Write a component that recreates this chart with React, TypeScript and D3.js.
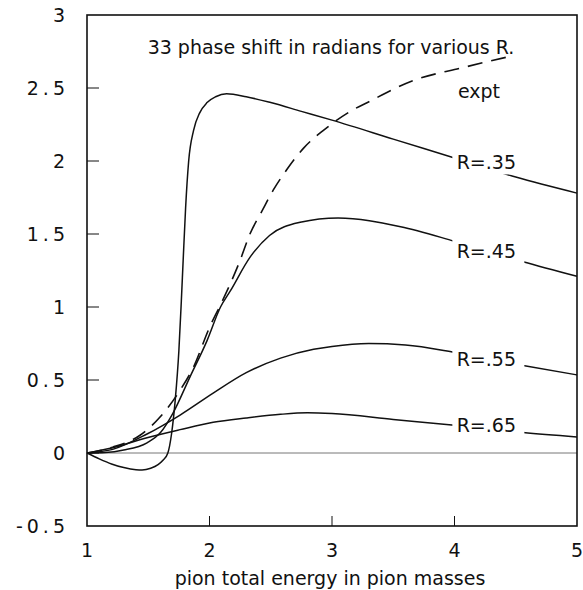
import * as d3 from "d3";

// phase shift curves: [energy, delta]
const r35: [number, number][] = [
  [1, 0], [1.1, -0.04], [1.2, -0.075], [1.3, -0.1], [1.4, -0.115], [1.45, -0.117],
  [1.52, -0.105], [1.58, -0.08], [1.62, -0.05], [1.66, 0], [1.69, 0.13], [1.72, 0.36],
  [1.75, 0.7], [1.77, 1.04], [1.785, 1.32], [1.805, 1.68], [1.83, 2.0], [1.87, 2.21],
  [1.92, 2.33], [1.98, 2.4], [2.05, 2.44], [2.14, 2.46], [2.3, 2.44], [2.5, 2.4],
  [2.75, 2.34], [3.0, 2.28], [3.5, 2.15], [4.0, 2.02], [4.5, 1.89], [5.0, 1.78],
];
const r45: [number, number][] = [
  [1, 0], [1.15, 0.003], [1.3, 0.02], [1.49, 0.07], [1.6, 0.14], [1.7, 0.27],
  [1.84, 0.52], [1.98, 0.77], [2.09, 1.0], [2.17, 1.11], [2.33, 1.34], [2.49, 1.49],
  [2.74, 1.58], [3.05, 1.61], [3.56, 1.55], [4.0, 1.45], [4.56, 1.31], [5.0, 1.21],
];
const r55: [number, number][] = [
  [1, 0], [1.21, 0.025], [1.49, 0.13], [1.76, 0.26], [2.03, 0.41], [2.3, 0.55],
  [2.58, 0.65], [2.85, 0.71], [3.0, 0.73], [3.3, 0.75], [3.6, 0.74], [4.0, 0.69],
  [4.56, 0.6], [5.0, 0.535],
];
const r65: [number, number][] = [
  [1, 0], [1.21, 0.036], [1.49, 0.105], [1.76, 0.16], [2.03, 0.21], [2.3, 0.24],
  [2.58, 0.265], [2.8, 0.275], [3.0, 0.27], [3.5, 0.23], [4.0, 0.19], [4.56, 0.14],
  [5.0, 0.11],
];
const expt: [number, number][] = [
  [1, 0], [1.21, 0.04], [1.43, 0.12], [1.6, 0.25], [1.76, 0.43], [1.87, 0.59],
  [2.0, 0.86], [2.11, 1.05], [2.25, 1.32], [2.33, 1.5], [2.43, 1.66], [2.52, 1.8],
  [2.63, 1.94], [2.77, 2.09], [2.93, 2.21], [3.15, 2.34], [3.31, 2.41], [3.66, 2.55],
  [4.07, 2.64], [4.47, 2.72],
];

const xTicks = [1, 2, 3, 4, 5];
const yTicks = [-0.5, 0, 0.5, 1, 1.5, 2, 2.5, 3];

const curveLabels = [
  { text: "R=.35", at: [4.26, 1.99] },
  { text: "R=.45", at: [4.26, 1.38] },
  { text: "R=.55", at: [4.26, 0.64] },
  { text: "R=.65", at: [4.26, 0.19] },
];

const font = "'DejaVu Sans', sans-serif";

export default function App() {
  const x = d3.scaleLinear().domain([1, 5]).range([87, 577]);
  const y = d3.scaleLinear().domain([-0.5, 3]).range([526, 15]);
  const line = d3
    .line<[number, number]>()
    .x((d) => x(d[0]))
    .y((d) => y(d[1]))
    .curve(d3.curveMonotoneX);

  const fmt = (v: number) => (v === -0.5 ? "-0.5" : String(v));
  const ls = 4;
  const fs = 19;

  return (
    <svg width={583} height={590} style={{ position: "absolute", left: 0, top: 0, background: "#fff" }}>
      <g fontFamily={font} fill="#111">
        {/* zero line */}
        <line x1={x(1)} x2={x(5)} y1={y(0)} y2={y(0)} stroke="#777" strokeWidth={1} />

        {[r35, r45, r55, r65].map((s, i) => (
          <path key={i} d={line(s) || ""} fill="none" stroke="#111" strokeWidth={1.5} />
        ))}
        <path d={line(expt) || ""} fill="none" stroke="#111" strokeWidth={1.6} strokeDasharray="15,9" />

        {curveLabels.map((l) => (
          <g key={l.text}>
            <rect x={x(l.at[0]) - 34} y={y(l.at[1]) - 12} width={72} height={24} fill="#fff" />
            <text x={x(l.at[0])} y={y(l.at[1])} dy="0.35em" textAnchor="middle" fontSize={fs}>
              {l.text}
            </text>
          </g>
        ))}
        <text x={479} y={91} dy="0.35em" textAnchor="middle" fontSize={fs}>expt</text>

        <text x={331} y={47} dy="0.35em" textAnchor="middle" fontSize={fs}>
          33 phase shift in radians for various R.
        </text>

        {/* frame */}
        <rect x={x(1)} y={y(3)} width={x(5) - x(1)} height={y(-0.5) - y(3)} fill="none" stroke="#111" strokeWidth={1.6} />

        {yTicks.map((t) => (
          <g key={t}>
            {t > -0.5 && t < 3 && <line x1={x(1)} x2={x(1) + 12} y1={y(t)} y2={y(t)} stroke="#111" strokeWidth={1} />}
            <text x={65 + ls} y={y(t)} dy="0.35em" textAnchor="end" fontSize={fs} letterSpacing={ls}>
              {fmt(t)}
            </text>
          </g>
        ))}
        {xTicks.map((t) => (
          <g key={t}>
            {t > 1 && t < 5 && <line x1={x(t)} x2={x(t)} y1={y(-0.5)} y2={y(-0.5) - 10} stroke="#111" strokeWidth={1} />}
            <text x={x(t)} y={550} dy="0.35em" textAnchor="middle" fontSize={fs}>
              {t}
            </text>
          </g>
        ))}
        <text x={330} y={578} dy="0.35em" textAnchor="middle" fontSize={fs}>
          pion total energy in pion masses
        </text>
      </g>
    </svg>
  );
}
